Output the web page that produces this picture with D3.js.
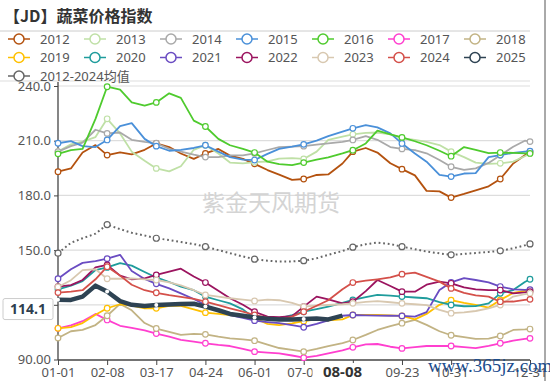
<!DOCTYPE html>
<html>
<head>
<meta charset="utf-8">
<script src="https://cdn.jsdelivr.net/npm/d3@7"></script>
<style>
  body { margin: 0; background: #fff; }
  text { font-family: "Noto Sans", "Noto Sans CJK SC", sans-serif; }
</style>
</head>
<body>
<svg id="chart" width="550" height="381"></svg>
<script>
// day of year (leap year) for each sample
const days = [0,10,19,29,38,48,57,67,76,86,95,105,114,124,133,143,152,162,171,181,190,200,209,220,228,238,247,257,266,276,285,295,304,314,323,333,342,352,361,365];
const tickDays = [0,38,76,114,152,190,228,266,304,365];
// 08-16 sits under the 08-08 pointer label, so it is left blank
const tickLabels = ["01-01","02-08","03-17","04-24","06-01","07-09","","09-23","10-31","12-31"];
const markerDays = [0,38,76,114,152,190,228,266,304,342,365];
const yTicks = [90,120,150,180,210,240];
const yLabels = ["90.00","120.0","150.0","180.0","210.0","240.0"];

const years = ["2012","2013","2014","2015","2016","2017","2018","2019","2020","2021","2022","2023","2024","2025"];
const colors = ["#b4520f","#bfe0a6","#a9a9a9","#4a90d9","#4fcb2e","#ff3fcf","#c2b384","#ffc000","#1f9c9c","#6a4cc2","#9b145f","#d8c8b0","#d4504a","#2e4353"];

const s2012 = [193,194.8,203.5,207.6,202.1,203.6,202.5,205,208.5,206.5,203,200,203,205.5,201.8,200,197.3,193.9,191.4,188.5,189,191.2,191.5,197.5,204,206,203.5,197.6,194.4,191,182.5,182.2,178.8,180.8,182.8,185,189,197.5,202,204];
const s2013 = [204,208,209.5,212,222,214,204,199,194.8,193.2,196,205,207.5,203,198,197.6,198.2,198.6,200.2,200.4,200,204,210.5,212.3,213.5,214.3,214.5,213.5,211.4,210.5,209.4,207.6,204,201,198,197.3,197.6,198.5,201.5,203];
const s2014 = [204,207,209,216,214,214.5,210.5,209.3,208.6,205.5,204,202.3,201,201,202,202,203,204.9,206.5,206.7,207,207.8,208.5,209.3,210.4,212.5,210.5,206.5,205.5,204.8,203.1,199.4,195.7,194,194.8,197.8,202,206.7,210,209.5];
const s2015 = [208.6,209.8,207,206.5,210.4,218,219.6,211,207,204.5,205,206,207.5,204,201,199.6,199.4,202.8,205.5,206.7,208,210,212.5,215,216.8,218.5,217.3,214,208.5,203,198.5,191.2,190.3,192,192.2,201,202.1,203.3,204,204.3];
const s2016 = [202.8,204.8,205.5,222,239.6,238,231,229.3,231,236,233.5,221,217.8,211,207.5,205.5,203.5,198.5,197.2,196.6,198,199.6,200.8,203,204.8,208.5,215.5,213.5,211.8,209.7,207.5,204.5,201.5,206.5,205,203.2,203.5,203.3,203,203];
const s2017 = [107.1,108.7,111,115,111.7,108.5,107.3,106,104.2,102.5,100.8,99.8,98.9,98,97.4,95.8,94.3,93.8,93.4,92.2,91,92,93.4,95,96.7,98.3,98.5,97,96.1,96.8,97.4,97.4,97.4,96.8,96.2,97.5,98.9,100.3,101.3,101.6];
const s2018 = [101.8,105.5,106.2,108.9,114,120.5,117,110,107,105.2,103.5,104,103.8,102.5,101.6,101,100.3,98.2,96.3,95.3,94.3,95.8,97.4,99,100.7,103.5,106.2,108.3,109.9,111.7,109,105.5,103.3,102.3,101.3,101.5,102.9,106.2,106.5,106.7];
const s2019 = [107.1,107.8,110,114.5,118.1,120.3,119.5,118.1,118.1,119.4,119.4,117.5,115.7,115,114.4,113.5,112.6,109.5,108.9,109.8,111,112,111.5,112,114.4,114.4,114.4,114.2,113.9,112,115,120,122.5,121,120,118.5,122.7,126.5,127.7,128];
const s2020 = [128.5,130.5,133,139,140.5,142.8,141.5,138,135,132.5,130,128,124.5,122.5,120.8,117.5,112.6,112.5,112.6,114.3,116.2,117.6,119,121,122.7,124.2,125.4,125,124.5,124,123.6,121.5,119.9,119.2,119.3,120.8,126.3,128.1,132.5,134];
const s2021 = [134.3,139.5,143,143.9,145.3,147.4,138.5,134.2,131.5,129,126.3,123.2,119.9,117,114.4,112.8,111.3,110.5,109.9,108.8,107.7,109.5,111.5,114,114.4,114.2,114.1,114,113.9,113.5,116,128.1,132.3,134.6,133.6,132.3,130,128.5,128.2,128.3];
const s2022 = [130,130.8,133.6,140.5,141.9,136,134,134.5,136.4,138.2,139.8,135.5,132.2,127.7,123.6,120,116.2,113.5,113.2,113.8,119,124.5,123,120.8,121.7,127.5,133.6,130.3,127.2,127.2,131,132.7,131.8,129.5,128.5,128.1,128.1,126.3,126.8,127.2];
const s2023 = [129.8,133.5,139,139.5,134.3,134.3,134.5,134,133.6,132.3,130.7,128,125.4,124.5,123.6,122.8,122.1,122.8,122.5,121,119,119.5,119.9,120.3,120.8,121.6,122,121.4,120.8,120.3,119.8,117.2,115.4,115.8,116.6,118,119.9,124.5,125.8,126.3];
const s2024 = [126.7,127.2,128,134,140.9,136,131,128,126.6,125.3,124.3,123.2,121.7,119.8,118.1,116.3,114.4,112.9,111.7,113.5,116.2,119.5,122.5,128.5,132.2,133.2,134,135,136.8,137.6,135.3,132.7,129,126.5,125.2,124.5,121.7,121.8,122.7,123];
const s2025 = [122.8,122.7,124.5,130.5,127.3,122,120,119.4,119.9,120.2,120.5,120.6,119,117,115,114,113,112.4,112,111.9,112.2,112.5,112,114.1];
const avgValues = [148.3,154,156.5,159,164,161.5,159.5,158,156.5,155.5,154.5,153.3,151.9,150,148.3,146.5,145,144.2,143.7,143.8,144.2,145.5,147.4,149.5,151.6,153.2,154.1,153.3,151.9,150.5,149.2,148.2,147.4,147.9,148.4,149,149.6,151,152.6,153.4];

const seriesValues = [s2012,s2013,s2014,s2015,s2016,s2017,s2018,s2019,s2020,s2021,s2022,s2023,s2024,s2025];
const lastDay = 220, lastValue = 114.1;

const svg = d3.select("#chart");

const x = d3.scaleLinear().domain([0, 365]).range([58, 530]);
const y = d3.scaleLinear().domain([90, 240]).range([359.5, 86]);

// title
svg.append("text").attr("x", 4).attr("y", 22)
  .style("font-family", "'Noto Sans CJK SC', sans-serif")
  .style("font-size", "16px").style("font-weight", "bold").attr("fill", "#333")
  .text("【JD】蔬菜价格指数");

// frame lines
svg.append("line").attr("x1", 0).attr("x2", 530).attr("y1", 31).attr("y2", 31).attr("stroke", "#ccc");
svg.append("line").attr("x1", 0).attr("x2", 530).attr("y1", 81).attr("y2", 81).attr("stroke", "#ddd");
svg.append("line").attr("x1", 545).attr("x2", 545).attr("y1", 0).attr("y2", 381).attr("stroke", "#555");

// legend
const legendNames = years.concat(["2012-2024均值"]);
const legendColors = colors.concat(["#666"]);
legendNames.forEach(function (name, i) {
  const col = i < 14 ? i % 7 : 0;
  const row = i < 14 ? Math.floor(i / 7) : 2;
  const cx = 19 + col * 76, cy = 39 + row * 18.5;
  const g = svg.append("g");
  g.append("line").attr("x1", cx - 11).attr("x2", cx + 11).attr("y1", cy).attr("y2", cy)
    .attr("stroke", legendColors[i]).attr("stroke-width", 1.5);
  g.append("circle").attr("cx", cx).attr("cy", cy).attr("r", 5)
    .attr("fill", "#fff").attr("stroke", legendColors[i]).attr("stroke-width", 1.5);
  g.append("text").attr("x", cx + 21).attr("y", cy + 4.5)
    .style("font-size", "13px").attr("fill", "#555").text(name);
});

// grid
svg.append("g").selectAll("line").data(yTicks.filter(d => d > 90)).enter().append("line")
  .attr("x1", 58).attr("x2", 530)
  .attr("y1", d => y(d)).attr("y2", d => y(d))
  .attr("stroke", "#ddd").attr("stroke-width", 1.2);

// watermark
svg.append("text").attr("x", 271).attr("y", 211).attr("text-anchor", "middle")
  .style("font-family", "'Noto Sans CJK SC', sans-serif")
  .style("font-size", "23px").attr("fill", "#d4d4d4").text("紫金天风期货");

// axes
const yAxis = d3.axisLeft(y).tickValues(yTicks).tickSize(4)
  .tickFormat((d, i) => yLabels[i]);
const yg = svg.append("g").attr("transform", "translate(58,0)").call(yAxis);
yg.select(".domain").attr("d", "M0,82V360").attr("stroke", "#444").attr("stroke-width", 1.3);
yg.selectAll(".tick line").attr("stroke", "#444");
yg.selectAll(".tick text").attr("x", -7).style("font-size", "13px").attr("fill", "#555")
  .style("font-family", "'Noto Sans', sans-serif");

const xAxis = d3.axisBottom(x).tickValues(tickDays).tickSize(5)
  .tickFormat((d, i) => tickLabels[i]);
const xg = svg.append("g").attr("transform", "translate(0,360)").call(xAxis);
xg.select(".domain").attr("d", "M58,0H530").attr("stroke", "#444").attr("stroke-width", 1.3);
xg.selectAll(".tick line").attr("stroke", "#444");
xg.selectAll(".tick text").attr("y", 8).style("font-size", "13px").attr("fill", "#555")
  .style("font-family", "'Noto Sans', sans-serif");

// series
const line = d3.line().x(d => x(d[0])).y(d => y(d[1]));
seriesValues.forEach(function (vals, i) {
  const pts = vals.map((v, j) => [days[j], v]);
  svg.append("path").datum(pts).attr("d", line).attr("fill", "none")
    .attr("stroke", colors[i]).attr("stroke-width", i === 13 ? 4.5 : 1.8)
    .attr("stroke-linejoin", "round");
  svg.append("g").selectAll("circle").data(pts.filter(p => markerDays.includes(p[0]))).enter()
    .append("circle").attr("cx", d => x(d[0])).attr("cy", d => y(d[1]))
    .attr("r", i === 13 ? 2 : 2.8).attr("fill", "#fff")
    .attr("stroke", i === 13 ? "none" : colors[i]).attr("stroke-width", 1.2);
});

// average (dotted)
const avgPts = avgValues.map((v, j) => [days[j], v]);
svg.append("path").datum(avgPts).attr("d", line).attr("fill", "none")
  .attr("stroke", "#666").attr("stroke-width", 2).attr("stroke-dasharray", "1.8,2.8");
svg.append("g").selectAll("circle").data(avgPts.filter(p => markerDays.includes(p[0]))).enter()
  .append("circle").attr("cx", d => x(d[0])).attr("cy", d => y(d[1]))
  .attr("r", 3).attr("fill", "#fff").attr("stroke", "#666").attr("stroke-width", 1.2);

// pointer labels
svg.append("rect").attr("x", x(lastDay) - 30).attr("y", 363).attr("width", 60).attr("height", 18).attr("fill", "#fff");
svg.append("text").attr("x", x(lastDay)).attr("y", 377).attr("text-anchor", "middle")
  .style("font-size", "15px").style("font-weight", "bold").attr("fill", "#333").text("08-08");
svg.append("rect").attr("x", 3).attr("y", y(lastValue) - 17).attr("width", 50).attr("height", 21)
  .attr("fill", "#fff").attr("stroke", "#ccc").attr("rx", 2);
svg.append("text").attr("x", 28).attr("y", y(lastValue) - 1.5).attr("text-anchor", "middle")
  .style("font-size", "14px").style("font-weight", "bold").attr("fill", "#2e3e4e").text(lastValue.toFixed(1));

// site watermark
svg.append("text").attr("x", 428).attr("y", 372)
  .style("font-family", "'Liberation Serif', serif").style("font-size", "19px")
  .attr("fill", "#1c4c8c").text("www.365jz.com");
</script>
</body>
</html>
